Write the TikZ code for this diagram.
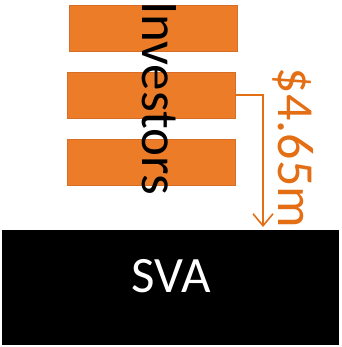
\documentclass[tikz,border=0pt]{standalone}
\usepackage{fontspec}
\setmainfont{Carlito}
\usetikzlibrary{arrows.meta}
\definecolor{boxorange}{RGB}{236,124,40}
\definecolor{boxedge}{RGB}{214,110,40}
\definecolor{txtorange}{RGB}{228,110,20}
\begin{document}
\begin{tikzpicture}[x=1pt,y=-1pt,
  invbox/.style={draw=boxedge,line width=0.8pt,fill=boxorange,minimum width=168pt,minimum height=46pt,inner sep=0pt},
  flow/.style={draw=txtorange,line width=2pt,-{Straight Barb[length=12pt,width=20pt,line width=1.6pt]}}]
\useasboundingbox (0,0) rectangle (341,347);
\node[invbox] (b1) at (153,28) {};
\node[invbox] (b2) at (151,95.5) {};
\node[invbox] (b3) at (151,162.5) {};
\node[rotate=-90,font=\fontsize{53}{53}\selectfont,inner sep=0pt] (inv) at (159,98) {Investors};
\node[fill=black,minimum width=337pt,minimum height=115pt,inner sep=0pt] (sva) at (170.5,287.5) {};
\node[text=white,font=\fontsize{51}{51}\selectfont,inner sep=0pt] (svat) at (171,276) {SVA};
\coordinate (tip) at (263,227);
\draw[flow] (b2.east) -| (tip);
\node[rotate=-90,text=txtorange,font=\fontsize{52}{52}\selectfont,inner sep=0pt] (amt) at (293,148) {\$4.65m};
\end{tikzpicture}
\end{document}
